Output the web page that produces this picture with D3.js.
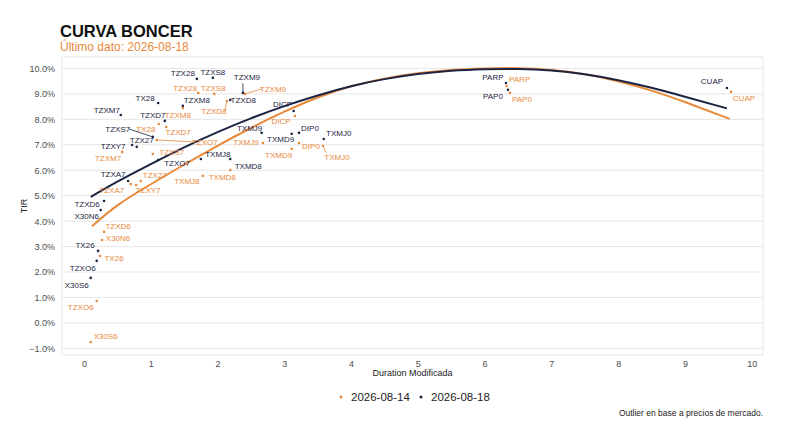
<html>
<head>
<meta charset="utf-8">
<script src="https://d3js.org/d3.v7.min.js"></script>
<style>
  body { margin: 0; background: #fff; }
  text { font-family: "Liberation Sans", Arial, sans-serif; }
</style>
</head>
<body>
<div id="chart"></div>
<script>

// tickers, same order for both dates
var tickers = ["TZX28", "TZXS8", "TZXM9", "TX28", "TZXM8", "TZXD8", "TZXM7", "TZXD7", "TZXS7", "TZXY7",
  "TZX27", "TZXO7", "TXMJ8", "TXMD8", "TZXA7", "TXMJ9", "TXMD9", "DIP0", "TXMJ0", "DICP",
  "TZXD6", "X30N6", "TX26", "TZXO6", "X30S6", "PARP", "PAP0", "CUAP"]

// 2026-08-14 (orange)
var dur_14 = [1.71, 1.95, 2.41, 1.12, 1.48, 2.14, 0.57, 1.23, 1.03, 0.78,
  0.85, 1.09, 1.78, 2.19, 0.70, 2.68, 3.11, 3.22, 3.58, 3.16,
  0.30, 0.27, 0.24, 0.19, 0.10, 6.33, 6.38, 9.69]
var tir_14 = [9.04, 9.00, 9.00, 7.82, 8.45, 8.72, 6.72, 7.70, 6.64, 5.42,
  5.58, 7.19, 5.78, 6.01, 5.46, 7.07, 6.84, 7.07, 6.95, 8.13,
  3.58, 3.26, 2.63, 0.86, -0.75, 9.31, 9.04, 9.08]

// 2026-08-18 (navy)
var dur_18 = [1.69, 1.93, 2.38, 1.11, 1.48, 2.19, 0.55, 1.21, 1.03, 0.72,
  0.79, 1.11, 1.75, 2.19, 0.66, 2.66, 3.11, 3.22, 3.59, 3.14,
  0.30, 0.25, 0.21, 0.19, 0.10, 6.32, 6.35, 9.63]
var tir_18 = [9.59, 9.63, 9.04, 8.64, 8.53, 8.76, 8.17, 7.94, 7.31, 6.99,
  6.92, 6.40, 6.44, 6.44, 5.58, 7.47, 7.43, 7.47, 7.23, 8.33,
  4.79, 4.44, 2.83, 2.44, 1.77, 9.43, 9.16, 9.23]

// fitted curves
var curve_dur_14 = [0.12, 0.5, 1.0, 1.5, 2.0, 2.5, 3.0, 3.5, 4.0, 4.5, 5.0, 5.5, 6.0, 6.5, 7.0, 7.5, 8.0, 8.5, 9.0, 9.67]
var curve_tir_14 = [3.80, 4.62, 5.45, 6.22, 6.96, 7.66, 8.30, 8.86, 9.30, 9.60, 9.81, 9.94, 10.0, 10.01, 9.94, 9.77, 9.50, 9.13, 8.68, 8.02]
var curve_dur_18 = [0.10, 0.5, 1.0, 1.5, 2.0, 2.5, 3.0, 3.5, 4.0, 4.5, 5.0, 5.5, 6.0, 6.5, 7.0, 7.5, 8.0, 8.5, 9.0, 9.63]
var curve_tir_18 = [4.95, 5.55, 6.24, 6.90, 7.50, 8.04, 8.52, 8.94, 9.30, 9.58, 9.78, 9.91, 9.97, 9.98, 9.92, 9.77, 9.54, 9.24, 8.89, 8.43]

var x_ticks = [0, 1, 2, 3, 4, 5, 6, 7, 8, 9, 10]
var y_ticks = [-1, 0, 1, 2, 3, 4, 5, 6, 7, 8, 9, 10]

var series_names = ["2026-08-14", "2026-08-18"]

// label nudges in px (label centre relative to its point), third item = draw a leader segment
var nudge_14 = {
  TZX28: [-13, -5], TZXS8: [-1, -6], TZXM9: [28, -5, 1], TX28: [-13, 5], TZXM8: [-5, 7], TZXD8: [-13, 10, 1],
  TZXM7: [-14, 6], TZXD7: [12, 5], TZXS7: [19, -2], TZXY7: [12, 5], TZX27: [14, -6], TZXO7: [48, 2, 1],
  TXMJ8: [-16, 5], TXMD8: [-8, 7], TZXA7: [-19, 6], TXMJ9: [-17, -1], TXMD9: [-13, 6], DIP0: [12, 3],
  TXMJ0: [14, 11, 1], DICP: [-14, 5], TZXD6: [14, -6], X30N6: [16, -2], TX26: [14, 2], TZXO6: [-16, 6],
  X30S6: [15, -6], PARP: [13, -7], PAP0: [12, 6], CUAP: [13, 6]
}
var nudge_18 = {
  TZX28: [-14, -6], TZXS8: [0, -6], TZXM9: [4, -16, 1], TX28: [-13, -5], TZXM8: [14, -6], TZXD8: [13, 0],
  TZXM7: [-14, -5], TZXD7: [-12, -6], TZXS7: [-35, -8, 1], TZXY7: [-19, 1], TZX27: [5, -7], TZXO7: [19, 3],
  TXMJ8: [17, -5], TXMD8: [18, 7], TZXA7: [-15, -7], TXMJ9: [-12, -5], TXMD9: [-11, 5], DIP0: [11, -5],
  TXMJ0: [15, -6], DICP: [-11, -7], TZXD6: [-17, 3], X30N6: [-14, 6], TX26: [-13, -6], TZXO6: [-14, 7],
  X30S6: [-14, 7], PARP: [-13, -6], PAP0: [-15, 6], CUAP: [-15, -7]
}

var orange = "#E8893A"
var navy = "#1C2442"

var width = 800
var height = 441
var panel = {left: 62, right: 763, top: 57, bottom: 355}

var svg = d3.select("#chart").append("svg")
  .attr("width", width)
  .attr("height", height)

var x = d3.scaleLinear()
  .domain([-0.33, 10.17])
  .range([panel.left, panel.right])

var y = d3.scaleLinear()
  .domain([-1.26, 10.45])
  .range([panel.bottom, panel.top])

// title
svg.append("text")
  .text("CURVA BONCER")
  .attr("x", 60)
  .attr("y", 37)
  .attr("font-size", 16.5)
  .attr("font-weight", "bold")
  .style("fill", "#111")

svg.append("text")
  .text("Último dato: 2026-08-18")
  .attr("x", 60)
  .attr("y", 51)
  .attr("font-size", 12)
  .style("fill", orange)

// grid
svg.append("g")
  .selectAll("line")
  .data(y_ticks)
  .enter().append("line")
  .attr("x1", panel.left)
  .attr("x2", panel.right)
  .attr("y1", function(d) { return y(d) })
  .attr("y2", function(d) { return y(d) })
  .style("stroke", "#e6e6e6")
  .style("stroke-width", 1)

svg.append("rect")
  .attr("x", panel.left)
  .attr("y", panel.top)
  .attr("width", panel.right - panel.left)
  .attr("height", panel.bottom - panel.top)
  .style("fill", "none")
  .style("stroke", "#e6e6e6")
  .style("stroke-width", 1)

// axes
var x_axis = svg.append("g")
  .attr("transform", "translate(0," + panel.bottom + ")")
  .call(d3.axisBottom(x).tickValues(x_ticks).tickSize(0).tickPadding(6).tickFormat(d3.format("d")))
x_axis.select(".domain").remove()
x_axis.selectAll("text").attr("font-size", 9).style("fill", "#4d4d4d").attr("font-family", "Liberation Sans, Arial, sans-serif")

var y_axis = svg.append("g")
  .attr("transform", "translate(" + panel.left + ",0)")
  .call(d3.axisLeft(y).tickValues(y_ticks).tickSize(0).tickPadding(7).tickFormat(function(d) { return d3.format(".1f")(d) + "%" }))
y_axis.select(".domain").remove()
y_axis.selectAll("text").attr("font-size", 9).style("fill", "#4d4d4d").attr("font-family", "Liberation Sans, Arial, sans-serif")

svg.append("text")
  .text("Duration Modificada")
  .attr("x", (panel.left + panel.right) / 2)
  .attr("y", 376)
  .attr("text-anchor", "middle")
  .attr("font-size", 9)
  .style("fill", "#222")

svg.append("text")
  .text("TIR")
  .attr("transform", "translate(27," + ((panel.top + panel.bottom) / 2) + ") rotate(-90)")
  .attr("text-anchor", "middle")
  .attr("font-size", 9)
  .style("fill", "#222")

// curves
var line_maker = d3.line()
  .x(function(d) { return x(d[0]) })
  .y(function(d) { return y(d[1]) })
  .curve(d3.curveNatural)

svg.append("path")
  .datum(d3.zip(curve_dur_14, curve_tir_14))
  .attr("d", line_maker)
  .style("fill", "none")
  .style("stroke", orange)
  .style("stroke-width", 2)

svg.append("path")
  .datum(d3.zip(curve_dur_18, curve_tir_18))
  .attr("d", line_maker)
  .style("fill", "none")
  .style("stroke", navy)
  .style("stroke-width", 2)

// points and labels
var point_maker = function(durs, tirs, nudges, color) {
  var g = svg.append("g")
  var rows = tickers.map(function(t, i) { return {t: t, dx: durs[i], ty: tirs[i], n: nudges[t]} })

  g.selectAll("line.lead")
    .data(rows.filter(function(d) { return d.n[2] }))
    .enter().append("line")
    .attr("x1", function(d) { return x(d.dx) })
    .attr("y1", function(d) { return y(d.ty) })
    .attr("x2", function(d) { return x(d.dx) + d.n[0] * (1 - 11 / Math.max(Math.abs(d.n[0]), 11)) })
    .attr("y2", function(d) { return y(d.ty) + d.n[1] * (Math.abs(d.n[1]) > 10 ? 0.6 : 1) })
    .style("stroke", color)
    .style("stroke-width", 0.8)

  g.selectAll("circle")
    .data(rows)
    .enter().append("circle")
    .attr("cx", function(d) { return x(d.dx) })
    .attr("cy", function(d) { return y(d.ty) })
    .attr("r", 1.3)
    .style("fill", color)

  g.selectAll("text")
    .data(rows)
    .enter().append("text")
    .text(function(d) { return d.t })
    .attr("x", function(d) { return x(d.dx) + d.n[0] })
    .attr("y", function(d) { return y(d.ty) + d.n[1] })
    .attr("text-anchor", "middle")
    .attr("dy", "0.35em")
    .attr("font-size", 8)
    .style("fill", color)
}

point_maker(dur_14, tir_14, nudge_14, orange)
point_maker(dur_18, tir_18, nudge_18, navy)

// legend
var legend = svg.append("g")
var legend_x = [341, 421]
var legend_col = [orange, navy]
series_names.forEach(function(s, i) {
  legend.append("circle")
    .attr("cx", legend_x[i])
    .attr("cy", 397)
    .attr("r", 1.5)
    .style("fill", legend_col[i])
  legend.append("text")
    .text(s)
    .attr("x", legend_x[i] + 10)
    .attr("y", 397)
    .attr("dy", "0.35em")
    .attr("font-size", 11.5)
    .style("fill", "#222")
})

svg.append("text")
  .text("Outlier en base a precios de mercado.")
  .attr("x", panel.right)
  .attr("y", 416)
  .attr("text-anchor", "end")
  .attr("font-size", 8.5)
  .style("fill", "#222")

</script>
</body>
</html>
